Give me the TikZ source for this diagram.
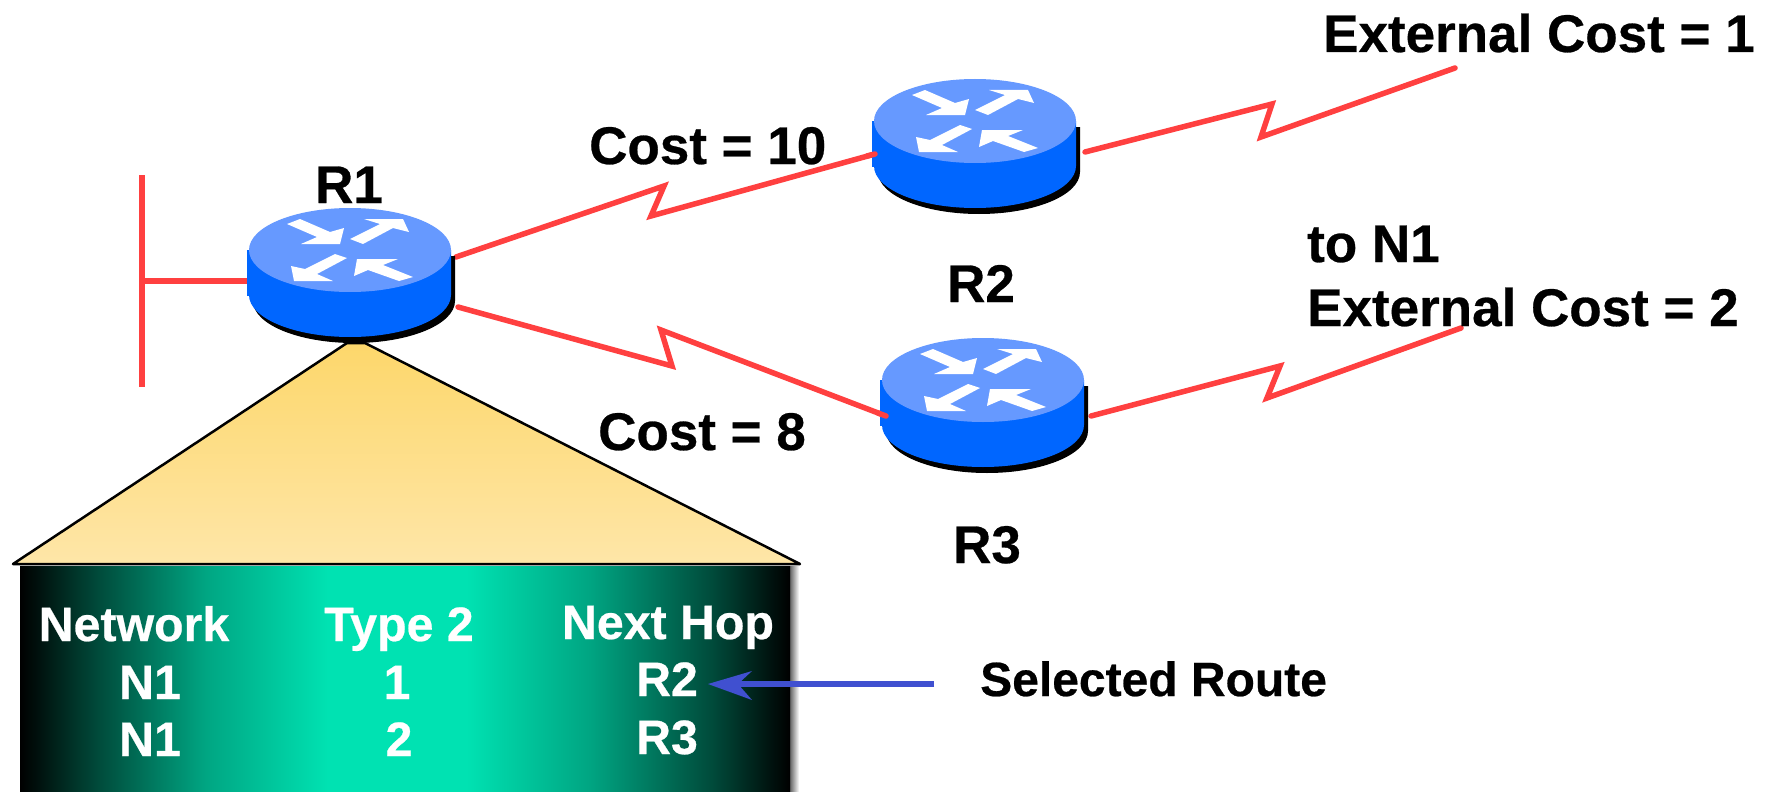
\documentclass[tikz,border=0pt]{standalone}
\usetikzlibrary{calc}
\usepackage{fontspec}
\setmainfont[BoldFeatures={FakeBold=0.5}]{Liberation Sans}
\definecolor{rtop}{HTML}{6699FF}
\definecolor{rbody}{HTML}{0066FF}
\definecolor{redline}{HTML}{FF4040}
\definecolor{bluearrow}{HTML}{4050D0}
\definecolor{tealc}{HTML}{00E2B2}
\definecolor{tealm}{HTML}{00A582}
\definecolor{teald}{HTML}{004A3A}
\definecolor{fanA}{HTML}{FDD76B}
\definecolor{fanB}{HTML}{FEE6A8}
\pgfdeclarehorizontalshading{tableshade}{100bp}{color(0bp)=(black); color(25bp)=(black); color(30bp)=(teald); color(37bp)=(tealm); color(45bp)=(tealc); color(54bp)=(tealc); color(62bp)=(tealm); color(70bp)=(teald); color(75bp)=(black); color(100bp)=(black)}
\tikzset{
  link/.style={draw=redline,line width=5.5pt,line cap=round,line join=miter},
  big/.style={font=\fontsize{53}{60}\bfseries\selectfont,text=black,inner sep=0pt},
  sel/.style={font=\fontsize{48}{56}\bfseries\selectfont,text=black,inner sep=0pt},
  cell/.style={font=\fontsize{48.3}{56}\bfseries\selectfont,text=white,inner sep=0pt,anchor=base},
  routerbox/.style={minimum width=206pt,minimum height=130pt,inner sep=0pt,draw=none},
}
\newcommand{\routershape}[1]{%
  \begin{scope}[shift={(#1)}]
    \fill[black] (-97,6) rectangle (105,51) (4,51) ellipse [x radius=101pt,y radius=42pt];
    \fill[rbody] (-103,0) rectangle (-100,46);
    \fill[rbody] (-101,0) rectangle (101,45) (0,45) ellipse [x radius=101pt,y radius=42pt];
    \fill[rtop] (0,0) ellipse [x radius=101pt,y radius=42pt];
    \fill[white] (-63,-26) -- (-50,-31) -- (-20,-18) -- (-6,-22) -- (-10,-6) -- (-49,-6) -- (-33,-13) -- cycle;
    \fill[white] (14,-31) -- (53,-31) -- (59,-18) -- (43,-22) -- (13,-6) -- (0,-11) -- (30,-26) -- cycle;
    \fill[white] (-3,8) -- (-33,24) -- (-17,31) -- (-56,31) -- (-59,16) -- (-45,19) -- (-15,4) -- cycle;
    \fill[white] (48,9) -- (33,15) -- (63,27) -- (49,31) -- (18,20) -- (4,26) -- (7,9) -- cycle;
  \end{scope}}
\begin{document}
\begin{tikzpicture}[x=1pt,y=-1pt]
\useasboundingbox (0,0) rectangle (1765,792);
\fill[white] (0,0) rectangle (1765,792);
% invisible named router nodes
\node[routerbox] (r1) at (350,250) {};
\node[routerbox] (r2) at (975,121) {};
\node[routerbox] (r3) at (983,380) {};
% table and its fan
\shade[left color=black!60,right color=white] (790,566) rectangle (799,792);
\shade[shading=tableshade] (20,566) rectangle (790,792);
\draw[black,line width=2.5pt,line join=round,top color=fanA,bottom color=fanB]
  (13,564) -- (347,343) -- (365,343) -- (800,564) -- cycle;
% network links
\coordinate (busT) at (142,175);
\coordinate (busB) at (142,387);
\coordinate (busM) at (142,281);
\draw[link,line cap=butt] (busT) -- (busB);
\draw[link,line cap=butt] (busM) -- (r1.west |- busM);
\coordinate (e1) at (1455,68);
\coordinate (e2) at (1461,328);
\draw[link] ($(r1)+(106,7)$) -- (664,186) -- (651,216) -- ($(r2)+(-100,33)$);
\draw[link] ($(r2)+(110,31)$) -- (1272,104) -- (1261,137) -- (e1);
\draw[link] ($(r1)+(108,57)$) -- (672,366) -- (661,330) -- ($(r3)+(-97,36)$);
\draw[link] ($(r3)+(108,36)$) -- (1280,366) -- (1267,398) -- (e2);
% routers
\routershape{r1}
\routershape{r2}
\routershape{r3}
% link ends that lie over the routers
\draw[link] ($(r2)+(-100,33)$) -- ($(r2)+(-108,35)$);
\draw[link] ($(r3)+(-97,36)$) -- ($(r3)+(-105,33)$);
% labels
\node[big,anchor=base] (l1) at (349,203) {R1};
\node[big,anchor=base] (l2) at (981,302) {R2};
\node[big,anchor=base] (l3) at (987,563) {R3};
\node[big,anchor=base west] (c10) at (589,164) {Cost = 10};
\node[big,anchor=base west] (c8) at (598,450) {Cost = 8};
\node[big,anchor=base west] (x1) at (1323,52) {External Cost = 1};
\node[big,anchor=base west] (n1) at (1307,262) {to N1};
\node[big,anchor=base west] (x2) at (1307,326) {External Cost = 2};
\node[sel,anchor=base west] (sr) at (980,696) {Selected Route};
% table text
\node[cell] (h1) at (134,641) {Network};
\node[cell] (h2) at (399,641) {Type 2};
\node[cell] (h3) at (668,639) {Next Hop};
\node[cell] (a1) at (150,699) {N1};
\node[cell] (a2) at (397,699) {1};
\node[cell] (a3) at (667,696) {R2};
\node[cell] (b1) at (150,756) {N1};
\node[cell] (b2) at (399,756) {2};
\node[cell] (b3) at (667,754) {R3};
% selected route arrow
\coordinate (arrowEnd) at (934,684);
\coordinate (arrowTip) at (708,684);
\draw[bluearrow,line width=5.5pt] (arrowEnd) -- (738,684);
\fill[bluearrow] (arrowTip) -- (752,671) -- (738,684) -- (752,700) -- cycle;
\end{tikzpicture}
\end{document}
